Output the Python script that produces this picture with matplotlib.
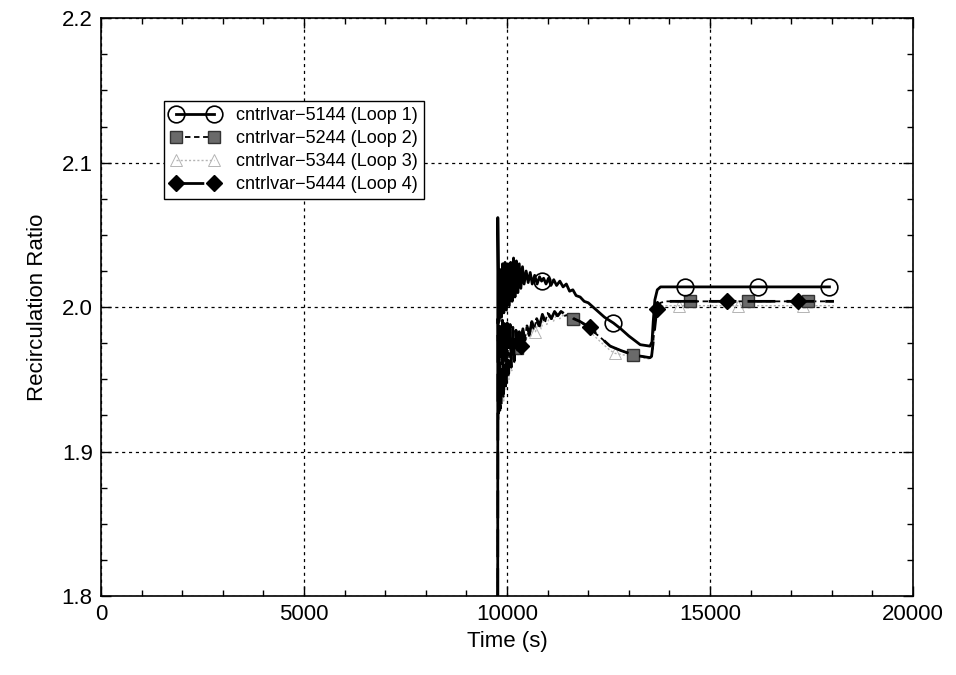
import matplotlib
matplotlib.use("Agg")
import matplotlib.pyplot as plt
from matplotlib.ticker import MultipleLocator

plt.rcParams["font.family"] = ["Liberation Sans", "DejaVu Sans"]

# Loop 1 (cntrlvar-5144)
t1 = [9770, 9772, 9800, 9830, 9860, 9890, 9920, 9950, 9985, 10020, 10055, 10090,
      10125, 10160, 10195, 10230, 10265, 10300, 10340, 10380, 10420, 10470, 10520,
      10570, 10620, 10680, 10740, 10800, 10850, 10900, 10960, 11020, 11080, 11150,
      11220, 11300, 11380, 11460, 11540, 11620, 11700, 11800, 11900, 12000, 12200,
      12400, 12620, 12800, 13000, 13280, 13520, 13570, 13600, 13640, 13700, 13780,
      14390, 16170, 17940]
y1 = [1.79, 2.062, 1.990, 2.026, 1.993, 2.030, 1.996, 2.031, 1.998, 2.030, 2.001, 2.031,
      2.004, 2.034, 2.007, 2.032, 2.010, 2.030, 2.013, 2.028, 2.016, 2.025, 2.017,
      2.024, 2.016, 2.022, 2.016, 2.021, 2.018, 2.020, 2.016, 2.020, 2.015, 2.019,
      2.015, 2.018, 2.014, 2.016, 2.011, 2.012, 2.008, 2.007, 2.004, 2.003, 1.998,
      1.993, 1.989, 1.985, 1.980, 1.974, 1.973, 1.976, 1.990, 2.005, 2.012, 2.014,
      2.014, 2.014, 2.014]
m1 = [10850, 12620, 14390, 16170, 17940]

# Loop 2 (cntrlvar-5244)
t2 = [9770, 9775, 9800, 9825, 9850, 9880, 9910, 9940, 9970, 10000, 10035, 10070,
      10105, 10140, 10175, 10210, 10250, 10290, 10330, 10380, 10430, 10480, 10540,
      10600, 10660, 10720, 10790, 10860, 10930, 11000, 11080, 11160, 11240, 11320,
      11420, 11520, 11630, 11800, 12040, 12300, 12540, 12800, 13100, 13300, 13520,
      13560, 13600, 13640, 13700, 13780, 13900, 14510, 15940, 17420, 18050]
y2 = [1.80, 1.990, 1.925, 1.988, 1.930, 1.990, 1.938, 1.989, 1.945, 1.988, 1.952, 1.987,
      1.958, 1.985, 1.962, 1.983, 1.972, 1.982, 1.972, 1.984, 1.976, 1.986, 1.980,
      1.989, 1.984, 1.991, 1.986, 1.994, 1.989, 1.996, 1.991, 1.997, 1.993, 1.997,
      1.994, 1.995, 1.992, 1.990, 1.985, 1.979, 1.973, 1.970, 1.967, 1.966, 1.965,
      1.966, 1.975, 1.993, 2.000, 2.003, 2.004, 2.004, 2.004, 2.004, 2.004]
m2 = [10250, 11630, 13100, 14510, 15940, 17420]

# Loop 3 (cntrlvar-5344)
t3 = [9770, 9778, 9805, 9830, 9858, 9888, 9918, 9948, 9978, 10010, 10045, 10080,
      10115, 10150, 10190, 10230, 10270, 10310, 10360, 10410, 10460, 10520, 10580,
      10640, 10700, 10770, 10840, 10910, 10980, 11060, 11140, 11220, 11300, 11400,
      11500, 11620, 11800, 12040, 12300, 12540, 12660, 12850, 13100, 13300, 13520,
      13560, 13600, 13650, 13720, 13800, 14230, 15700, 17300, 18050]
y3 = [1.80, 1.985, 1.922, 1.985, 1.928, 1.987, 1.935, 1.987, 1.943, 1.985, 1.950, 1.985,
      1.956, 1.982, 1.961, 1.981, 1.967, 1.980, 1.970, 1.982, 1.975, 1.985, 1.979,
      1.987, 1.983, 1.990, 1.985, 1.993, 1.988, 1.994, 1.990, 1.995, 1.992, 1.995,
      1.993, 1.991, 1.988, 1.983, 1.976, 1.970, 1.968, 1.967, 1.966, 1.965, 1.964,
      1.965, 1.972, 1.990, 1.998, 2.001, 2.001, 2.001, 2.001, 2.001]
m3 = [10700, 12660, 14230, 15700, 17300]

# Loop 4 (cntrlvar-5444)
t4 = [9770, 9776, 9805, 9830, 9855, 9885, 9915, 9945, 9975, 10005, 10040, 10075,
      10110, 10145, 10180, 10220, 10260, 10300, 10340, 10390, 10440, 10490, 10550,
      10610, 10670, 10730, 10800, 10870, 10940, 11010, 11090, 11170, 11250, 11330,
      11430, 11530, 11640, 11800, 12040, 12300, 12540, 12800, 13100, 13300, 13520,
      13560, 13600, 13690, 13760, 13850, 15420, 17170, 18050]
y4 = [1.80, 1.992, 1.928, 1.990, 1.932, 1.991, 1.940, 1.990, 1.947, 1.989, 1.954, 1.988,
      1.959, 1.986, 1.963, 1.984, 1.968, 1.983, 1.973, 1.985, 1.977, 1.987, 1.981,
      1.990, 1.985, 1.992, 1.987, 1.995, 1.990, 1.996, 1.992, 1.997, 1.994, 1.997,
      1.995, 1.995, 1.992, 1.990, 1.986, 1.979, 1.973, 1.970, 1.967, 1.966, 1.965,
      1.966, 1.976, 1.999, 2.003, 2.004, 2.004, 2.004, 2.004]
m4 = [10340, 12040, 13690, 15420, 17170]

labels = ["cntrlvar\u22125144 (Loop 1)", "cntrlvar\u22125244 (Loop 2)",
          "cntrlvar\u22125344 (Loop 3)", "cntrlvar\u22125444 (Loop 4)"]

fig = plt.figure(figsize=(9.56, 6.75), dpi=100)
ax = fig.add_axes([0.1057, 0.117, 0.8494, 0.856])

ax.plot(t3, y3, color="#b4b4b4", lw=1.0, ls=(0, (1.5, 1.5)), marker="^",
        markevery=[t3.index(v) for v in m3], ms=8, mfc="none", mec="#b4b4b4",
        mew=0.7, label=labels[2], zorder=3)
ax.plot(t2, y2, color="black", lw=1.3, ls=(0, (3, 2)), marker="s",
        markevery=[t2.index(v) for v in m2], ms=9, mfc="#6a6a6a", mec="#333333",
        mew=1.0, label=labels[1], zorder=4)
ax.plot(t4, y4, color="black", lw=2.0, ls=(0, (10, 4)), marker="D",
        markevery=[t4.index(v) for v in m4], ms=8, mfc="black", mec="black",
        label=labels[3], zorder=5)
ax.plot(t1, y1, color="black", lw=2.0, ls="-", marker="o",
        markevery=[t1.index(v) for v in m1], ms=12, mfc="none", mec="black",
        mew=1.2, label=labels[0], zorder=6)

ax.set_xlim(0, 20000)
ax.set_ylim(1.8, 2.2)
ax.xaxis.set_major_locator(MultipleLocator(5000))
ax.xaxis.set_minor_locator(MultipleLocator(1000))
ax.yaxis.set_major_locator(MultipleLocator(0.1))
ax.yaxis.set_minor_locator(MultipleLocator(0.025))
ax.tick_params(which="both", direction="in", top=True, right=True,
               labelsize=16, width=1.0, pad=6)
ax.tick_params(which="major", length=7)
ax.tick_params(which="minor", length=4)
ax.set_yticklabels([f"{v:.1f}" for v in ax.get_yticks()])
ax.grid(True, which="major", color="black", ls=(0, (2.5, 3)), lw=0.9)
for s in ax.spines.values():
    s.set_linewidth(1.2)

ax.set_xlabel("Time (s)", fontsize=16, labelpad=4)
ax.set_ylabel("Recirculation Ratio", fontsize=16, labelpad=10)

h, l = ax.get_legend_handles_labels()
order = [3, 1, 0, 2]
leg = ax.legend([h[i] for i in order], [l[i] for i in order], loc="upper left",
                bbox_to_anchor=(0.078, 0.857), borderaxespad=0, numpoints=2,
                fontsize=13, handlelength=2.7, handletextpad=0.9,
                labelspacing=0.33, borderpad=0.35, fancybox=False,
                framealpha=1, edgecolor="black")
leg.get_frame().set_linewidth(1.0)

fig.savefig("out.png", dpi=100)
